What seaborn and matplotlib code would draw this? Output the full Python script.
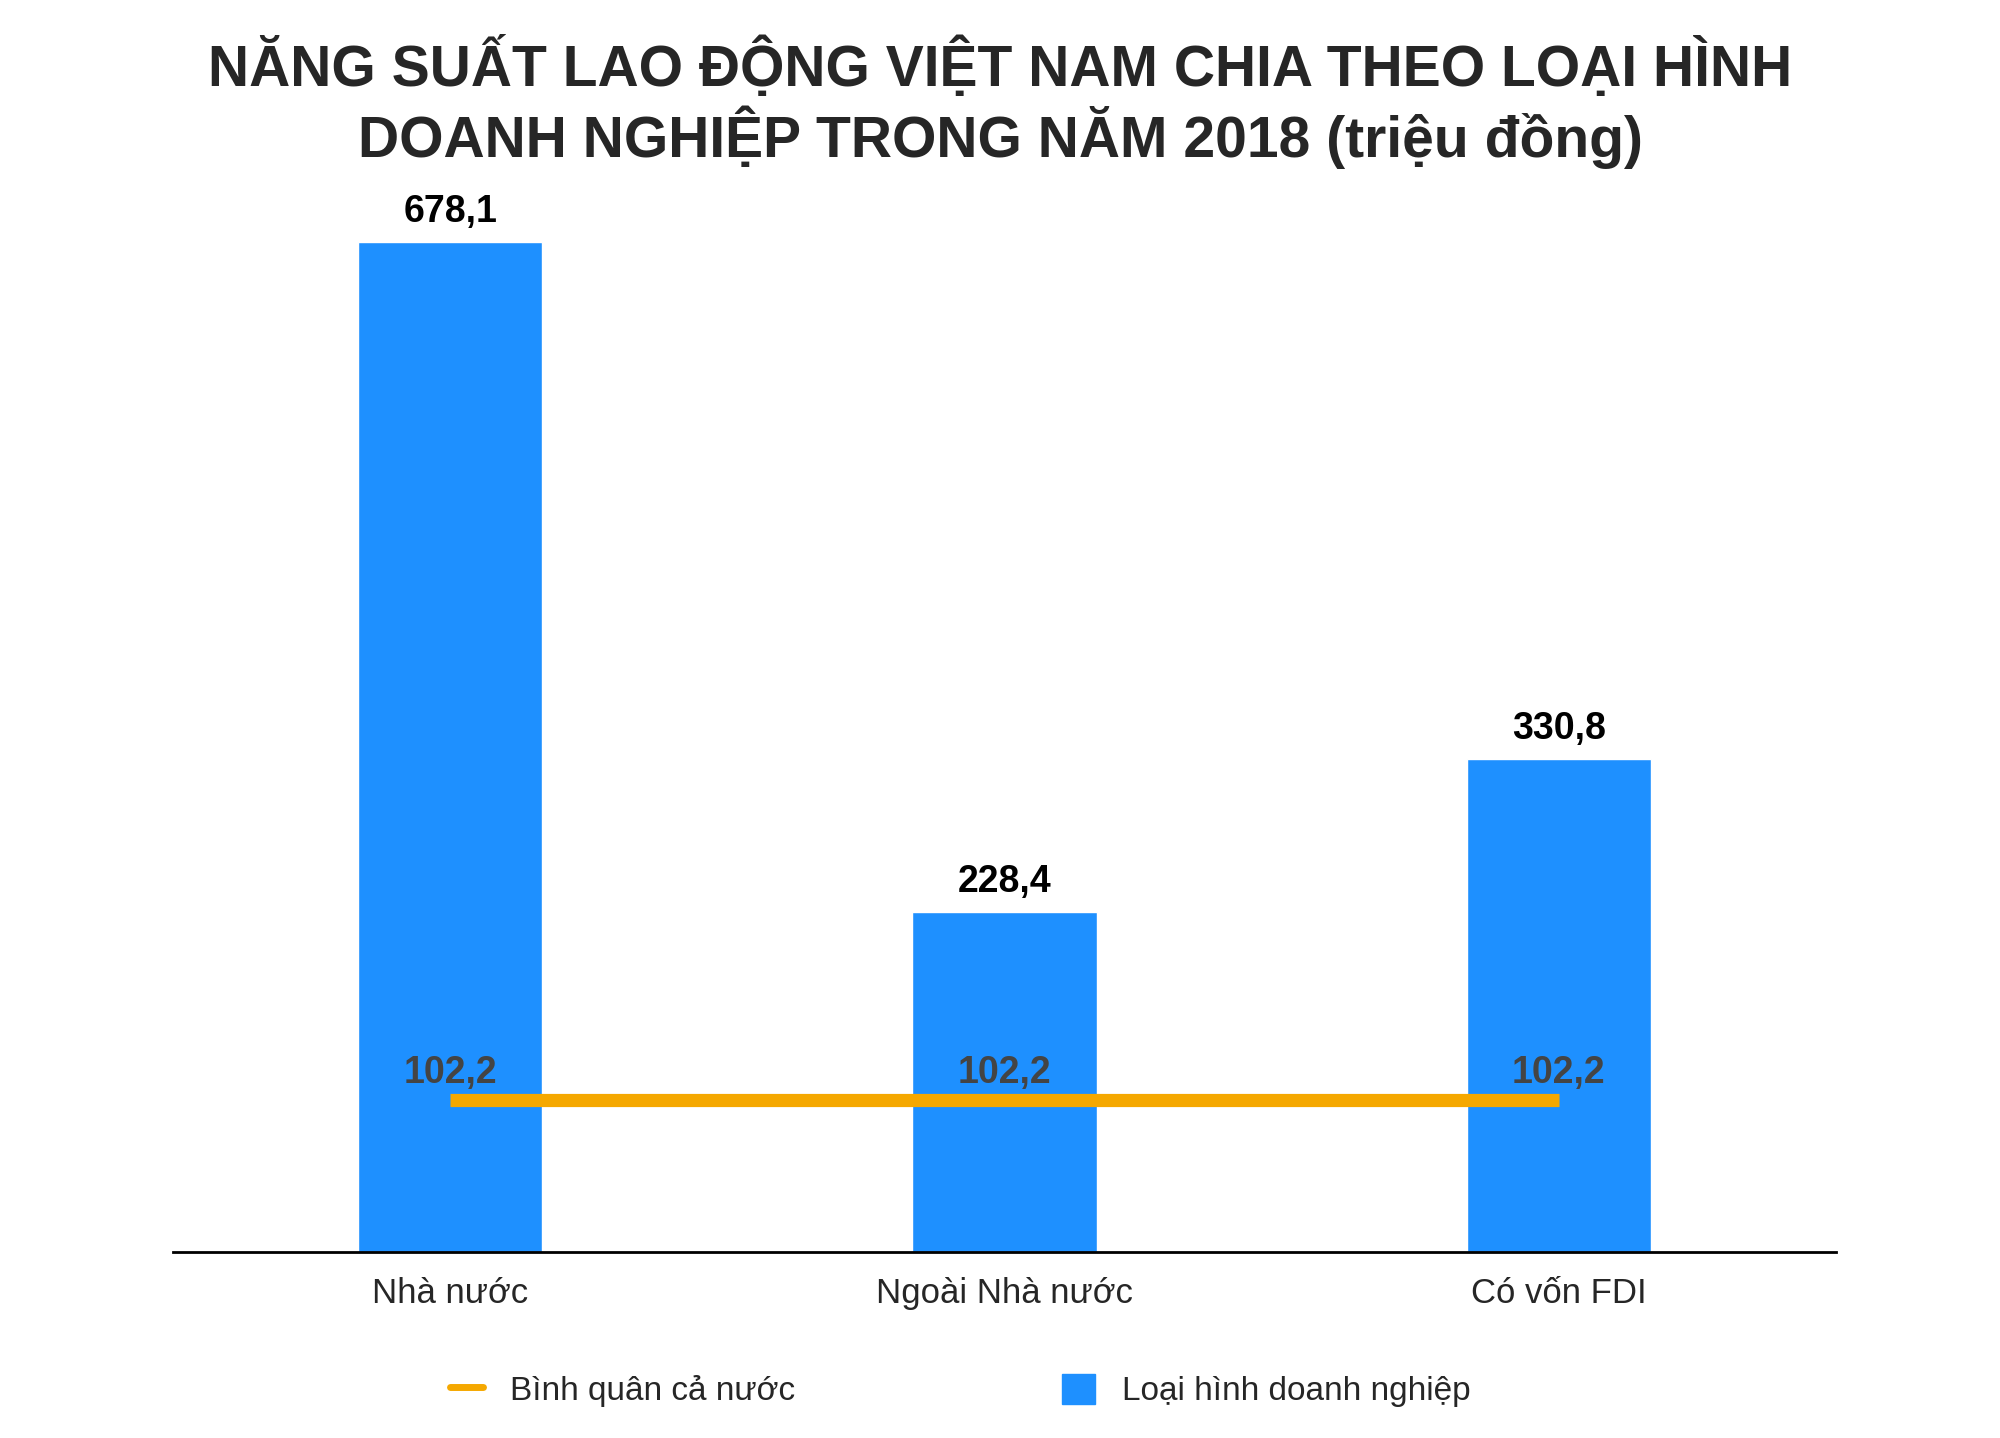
import matplotlib
matplotlib.use("Agg")
import matplotlib.pyplot as plt
import seaborn as sns
import pandas as pd
from matplotlib.lines import Line2D
from matplotlib.patches import Patch

categories = ["Nhà nước", "Ngoài Nhà nước", "Có vốn FDI"]
values = [678.1, 228.4, 330.8]
average = [102.2, 102.2, 102.2]

sns.set_theme(style="white")
plt.rcParams['font.family'] = ['Liberation Sans', 'DejaVu Sans']

df = pd.DataFrame({"cat": categories, "val": values})
fig = plt.figure(figsize=(20, 14.38), dpi=100)
ax = fig.add_axes([0.0865, 0.1295, 0.8315, 0.725])
sns.barplot(data=df, x="cat", y="val", color="#1E90FF", saturation=1, width=0.333, ax=ax)
ax.plot(range(3), average, color="#F5A800", lw=9.5, solid_capstyle="butt")
fmt = lambda v: f"{v:.1f}".replace(".", ",")
for i, v in enumerate(values):
    ax.text(i, v + 8, fmt(v), ha="center", va="bottom", fontsize=27, fontweight="bold", color="black")
for i, v in enumerate(average):
    ax.text(i, v + 6, fmt(v), ha="center", va="bottom", fontsize=27, fontweight="bold", color="#444444")
ax.set_xlim(-0.5, 2.5)
ax.set_ylim(0, 700)
ax.set_yticks([])
ax.set_xlabel(""); ax.set_ylabel("")
for s in ["top", "right", "left"]:
    ax.spines[s].set_visible(False)
ax.spines["bottom"].set_color("black")
ax.spines["bottom"].set_linewidth(2)
ax.tick_params(axis="x", labelsize=25, pad=18, length=0)
fig.suptitle("NĂNG SUẤT LAO ĐỘNG VIỆT NAM CHIA THEO LOẠI HÌNH\nDOANH NGHIỆP TRONG NĂM 2018 (triệu đồng)",
             fontsize=41, fontweight="bold", y=0.975, linespacing=1.15)
handles = [Line2D([0], [0], color="#F5A800", lw=5), Patch(color="#1E90FF")]
fig.legend(handles, ["Bình quân cả nước", "Loại hình doanh nghiệp"], loc="center",
           bbox_to_anchor=(0.48, 0.033), ncol=2, frameon=False, fontsize=24,
           columnspacing=8, handlelength=1.0, handleheight=1.0)
fig.savefig("out.png", dpi=100)
